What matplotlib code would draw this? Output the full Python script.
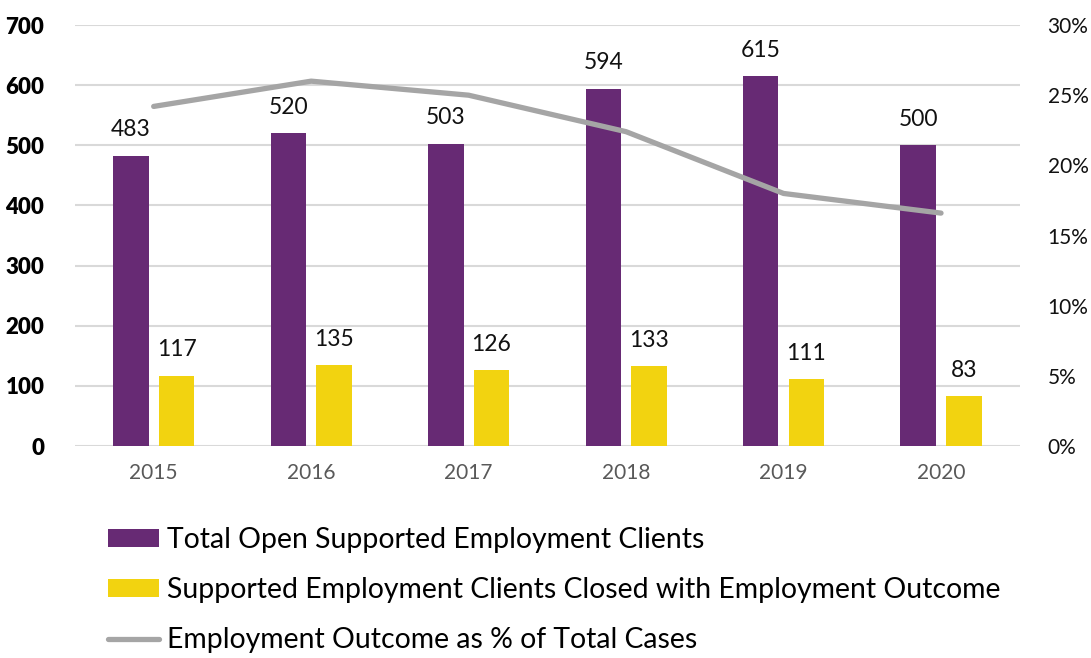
import numpy as np
import matplotlib.pyplot as plt
from matplotlib.patches import Patch
from matplotlib.lines import Line2D

plt.rcParams['font.family'] = ['Lato', 'DejaVu Sans']

years = ['2015', '2016', '2017', '2018', '2019', '2020']
total_open = [483, 520, 503, 594, 615, 500]
closed_employed = [117, 135, 126, 133, 111, 83]
outcome_pct = [24.2, 26.0, 25.0, 22.4, 18.0, 16.6]

purple = '#672A74'
yellow = '#F2D310'
grey_line = '#A5A5A5'
grid_col = '#D9D9D9'

fig = plt.figure(figsize=(10.91, 6.58), dpi=100)
ax = fig.add_axes([0.0687, 0.322, 0.866, 0.640])
ax2 = ax.twinx()

x = np.arange(len(years))
w = 0.225
gap = 0.065
b1 = ax.bar(x - (w + gap) / 2, total_open, w, color=purple, zorder=3)
b2 = ax.bar(x + (w + gap) / 2, closed_employed, w, color=yellow, zorder=3)

# value labels above each bar
for bars, vals in ((b1, total_open), (b2, closed_employed)):
    for rect, v in zip(bars, vals):
        ax.annotate(str(v), (rect.get_x() + rect.get_width() / 2, v), xytext=(0, 11),
                    textcoords='offset points', ha='center', va='bottom',
                    fontsize=16.5, color='#111111')

ax2.plot(x, outcome_pct, color=grey_line, linewidth=3.8, solid_capstyle='round', zorder=4)

ax.set_xlim(-0.5, len(years) - 0.5)
ax.set_ylim(0, 700)
ax.set_yticks(range(0, 701, 100))
ax.set_xticks(x)
ax.set_xticklabels(years, fontsize=15, color='#595959')
for lbl in ax.get_yticklabels():
    lbl.set_fontsize(16)
    lbl.set_fontweight('heavy')
ax.grid(axis='y', color=grid_col, linewidth=1.5, zorder=0)
ax.tick_params(length=0, pad=12)
ax.tick_params(axis='y', pad=22)

ax2.set_ylim(0, 30)
ax2.set_yticks(range(0, 31, 5))
ax2.set_yticklabels([f'{t}%' for t in range(0, 31, 5)], fontsize=15, color='#111111')
ax2.tick_params(length=0, pad=20)

for a in (ax, ax2):
    for s in a.spines.values():
        s.set_visible(False)

handles = [
    Patch(facecolor=purple, label='Total Open Supported Employment Clients'),
    Patch(facecolor=yellow, label='Supported Employment Clients Closed with Employment Outcome'),
    Line2D([0], [0], color=grey_line, linewidth=3.8, solid_capstyle='round',
           label='Employment Outcome as % of Total Cases'),
]
fig.legend(handles=handles, loc='center left', bbox_to_anchor=(108 / 1091, 0.103),
           frameon=False, borderpad=0, borderaxespad=0,
           fontsize=20.4, handlelength=1.8, handleheight=0.6, handletextpad=0.28,
           labelspacing=0.85)

fig.savefig('out.png', dpi=100)
